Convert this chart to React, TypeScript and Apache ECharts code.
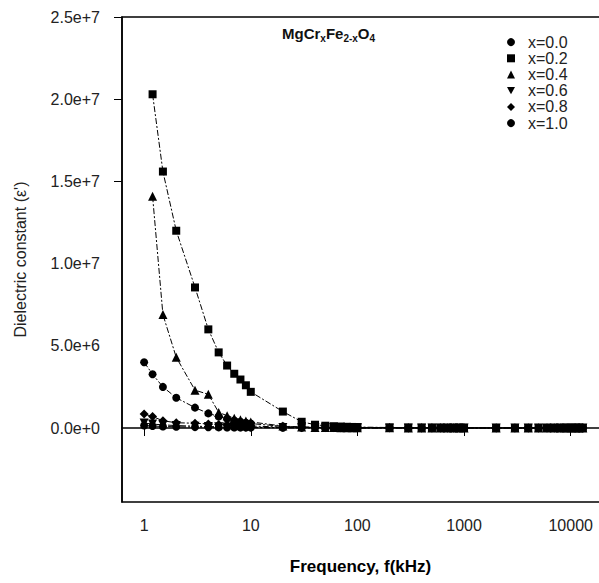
import React, { useEffect, useRef } from "react";
import * as echarts from "echarts";

// Frequencies (kHz)
const freqs = [
  1, 1.2, 1.5, 2, 3, 4, 5, 6, 7, 8, 9, 10,
  20, 30, 40, 50, 60, 70, 80, 90, 100,
  200, 300, 400, 500, 600, 700, 800, 900, 1000,
  2000, 3000, 4000, 5000, 6000, 7000, 8000, 9000, 10000, 11000, 12000, 13000,
];

const seriesNames = ["x=0.0", "x=0.2", "x=0.4", "x=0.6", "x=0.8", "x=1.0"];

const eps_x00 = [
  4.0e6, 3.27e6, 2.5e6, 1.84e6, 1.24e6, 8.9e5, 7.0e5, 5.6e5, 4.6e5, 3.8e5, 3.2e5, 2.7e5,
  1.0e5, 6.0e4, 4.5e4, 3.6e4, 3.0e4, 2.6e4, 2.3e4, 2.1e4, 1.9e4,
  1.2e4, 9.5e3, 8.0e3, 7.0e3, 6.3e3, 5.8e3, 5.4e3, 5.1e3, 4.8e3,
  3.6e3, 3.1e3, 2.8e3, 2.6e3, 2.5e3, 2.4e3, 2.3e3, 2.2e3, 2.1e3, 2.0e3, 2.0e3, 1.9e3,
];
const eps_x02 = [
  null, 2.03e7, 1.56e7, 1.2e7, 8.55e6, 6.0e6, 4.6e6, 3.8e6, 3.3e6, 2.95e6, 2.6e6, 2.2e6,
  1.0e6, 3.8e5, 2.0e5, 1.4e5, 1.1e5, 9.0e4, 7.5e4, 6.5e4, 5.8e4,
  3.0e4, 2.1e4, 1.7e4, 1.4e4, 1.2e4, 1.1e4, 1.0e4, 9.2e3, 8.6e3,
  6.0e3, 5.0e3, 4.4e3, 4.0e3, 3.7e3, 3.5e3, 3.3e3, 3.2e3, 3.1e3, 3.0e3, 2.9e3, 2.8e3,
];
const eps_x04 = [
  null, 1.41e7, 6.9e6, 4.3e6, 2.3e6, 2.05e6, 9.5e5, 7.5e5, 6.0e5, 5.0e5, 4.3e5, 3.7e5,
  1.2e5, 5.5e4, 3.8e4, 3.0e4, 2.5e4, 2.2e4, 2.0e4, 1.8e4, 1.6e4,
  1.0e4, 8.0e3, 6.8e3, 6.0e3, 5.4e3, 5.0e3, 4.7e3, 4.4e3, 4.2e3,
  3.2e3, 2.8e3, 2.5e3, 2.3e3, 2.2e3, 2.1e3, 2.0e3, 1.9e3, 1.9e3, 1.8e3, 1.8e3, 1.7e3,
];
const eps_x06 = [
  3.0e5, 2.4e5, 1.9e5, 1.5e5, 1.1e5, 9.0e4, 7.5e4, 6.5e4, 5.8e4, 5.2e4, 4.7e4, 4.3e4,
  2.6e4, 2.0e4, 1.7e4, 1.5e4, 1.3e4, 1.2e4, 1.1e4, 1.0e4, 9.5e3,
  6.5e3, 5.3e3, 4.6e3, 4.1e3, 3.8e3, 3.5e3, 3.3e3, 3.1e3, 3.0e3,
  2.3e3, 2.0e3, 1.8e3, 1.7e3, 1.6e3, 1.5e3, 1.5e3, 1.4e3, 1.4e3, 1.3e3, 1.3e3, 1.3e3,
];
const eps_x08 = [
  8.5e5, 7.0e5, 4.4e5, 3.2e5, 2.9e5, 2.5e5, 2.1e5, 1.8e5, 1.6e5, 1.4e5, 1.3e5, 1.2e5,
  6.0e4, 4.0e4, 3.2e4, 2.7e4, 2.4e4, 2.1e4, 1.9e4, 1.8e4, 1.7e4,
  1.1e4, 8.5e3, 7.2e3, 6.4e3, 5.8e3, 5.3e3, 5.0e3, 4.7e3, 4.5e3,
  3.3e3, 2.9e3, 2.6e3, 2.4e3, 2.3e3, 2.2e3, 2.1e3, 2.0e3, 2.0e3, 1.9e3, 1.9e3, 1.8e3,
];
const eps_x10 = [
  1.5e5, 1.2e5, 9.5e4, 7.5e4, 5.6e4, 4.6e4, 3.9e4, 3.4e4, 3.0e4, 2.7e4, 2.5e4, 2.3e4,
  1.4e4, 1.1e4, 9.0e3, 8.0e3, 7.2e3, 6.6e3, 6.1e3, 5.7e3, 5.4e3,
  3.7e3, 3.0e3, 2.6e3, 2.3e3, 2.1e3, 2.0e3, 1.9e3, 1.8e3, 1.7e3,
  1.3e3, 1.1e3, 1.0e3, 9.5e2, 9.0e2, 8.6e2, 8.3e2, 8.0e2, 7.8e2, 7.6e2, 7.4e2, 7.2e2,
];

const seriesValues = [eps_x00, eps_x02, eps_x04, eps_x06, eps_x08, eps_x10];
const seriesSymbols = [
  "circle",
  "rect",
  "triangle",
  "path://M0,0L10,0L5,9Z",
  "diamond",
  "circle",
];
const seriesSymbolSizes = [8, 8, 9, 9, 9, 8];

const xTickValues = [1, 10, 100, 1000, 10000];
const yLabelValues = [0, 5e6, 1e7, 1.5e7, 2e7, 2.5e7];
const yTickValues = [1.5e7, 2e7, 2.5e7];

const FONT = "'Liberation Sans', Arial, sans-serif";

function sciLabel(v: number): string {
  if (v === 0) return "0.0e+0";
  const e = Math.floor(Math.log10(Math.abs(v)) + 1e-9);
  const m = v / Math.pow(10, e);
  return `${m.toFixed(1)}e+${e}`;
}

export default function App() {
  const ref = useRef<HTMLDivElement>(null);

  useEffect(() => {
    if (!ref.current) return;
    const chart = echarts.init(ref.current, null, { renderer: "svg" });

    const series = seriesNames.map((name, si) => ({
      name,
      type: "line",
      data: freqs
        .map((f, i) => (seriesValues[si][i] == null ? null : [f, seriesValues[si][i]]))
        .filter((p) => p !== null),
      symbol: seriesSymbols[si],
      symbolSize: seriesSymbolSizes[si],
      showAllSymbol: true,
      itemStyle: { color: "#000" },
      lineStyle: { color: "#000", width: 1, type: [6, 2, 2, 2] },
      emphasis: { disabled: true },
    }));

    chart.setOption({
      animation: false,
      backgroundColor: "#fff",
      title: {
        text: "{b|MgCr}{s|x}{b|Fe}{s|2-x}{b|O}{s|4}",
        left: 277,
        top: 18,
        textStyle: {
          rich: {
            b: { fontSize: 15, fontWeight: "bold", fontFamily: FONT, color: "#111", lineHeight: 20, verticalAlign: "middle" },
            s: { fontSize: 10, fontWeight: "bold", fontFamily: FONT, color: "#111", lineHeight: 20, verticalAlign: "bottom" },
          },
        },
      },
      legend: {
        orient: "vertical",
        left: 502,
        top: 29,
        itemWidth: 8,
        itemHeight: 8,
        itemGap: 0,
        selectedMode: false,
        textStyle: { fontSize: 16, fontFamily: FONT, color: "#222", lineHeight: 16.2, padding: [0, 0, 0, 8] },
        data: seriesNames.map((n, i) => ({ name: n, icon: seriesSymbols[i] })),
      },
      grid: {
        left: 122,
        top: 17,
        width: 502,
        bottom: 81,
        outerBoundsMode: "none",
        containLabel: false,
        show: true,
        borderColor: "#000",
        borderWidth: 1.5,
      },
      xAxis: {
        type: "log",
        logBase: 10,
        min: 0.62,
        max: 31623,
        name: "Frequency, f(kHz)",
        nameLocation: "middle",
        nameGap: 56,
        nameTextStyle: { fontSize: 17, fontWeight: "bold", fontFamily: FONT, color: "#000", padding: [0, 25, 0, 0] },
        axisLine: { lineStyle: { color: "#000", width: 1.5 } },
        axisTick: { show: true, length: 8, lineStyle: { color: "#000" }, customValues: xTickValues },
        minorTick: { show: false },
        axisLabel: {
          customValues: xTickValues,
          fontSize: 16,
          fontFamily: FONT,
          color: "#222",
          margin: 15,
          formatter: (v: number) => String(Math.round(v)),
        },
        splitLine: { show: false },
      },
      yAxis: {
        type: "value",
        min: -4.5e6,
        max: 2.5e7,
        name: "Dielectric constant (ε')",
        nameLocation: "middle",
        nameGap: 94,
        nameTextStyle: { fontSize: 16, fontFamily: FONT, color: "#222" },
        axisLine: { show: true, lineStyle: { color: "#000", width: 1.5 } },
        axisTick: { show: true, length: 8, lineStyle: { color: "#000" }, customValues: yTickValues },
        axisLabel: {
          customValues: yLabelValues,
          fontSize: 16,
          fontFamily: FONT,
          color: "#222",
          margin: 22,
          formatter: (v: number) => sciLabel(v),
        },
        splitLine: { show: false },
      },
      series,
    });

    return () => chart.dispose();
  }, []);

  return (
    <div
      ref={ref}
      style={{ position: "absolute", left: 0, top: 0, width: 599, height: 583 }}
    />
  );
}
